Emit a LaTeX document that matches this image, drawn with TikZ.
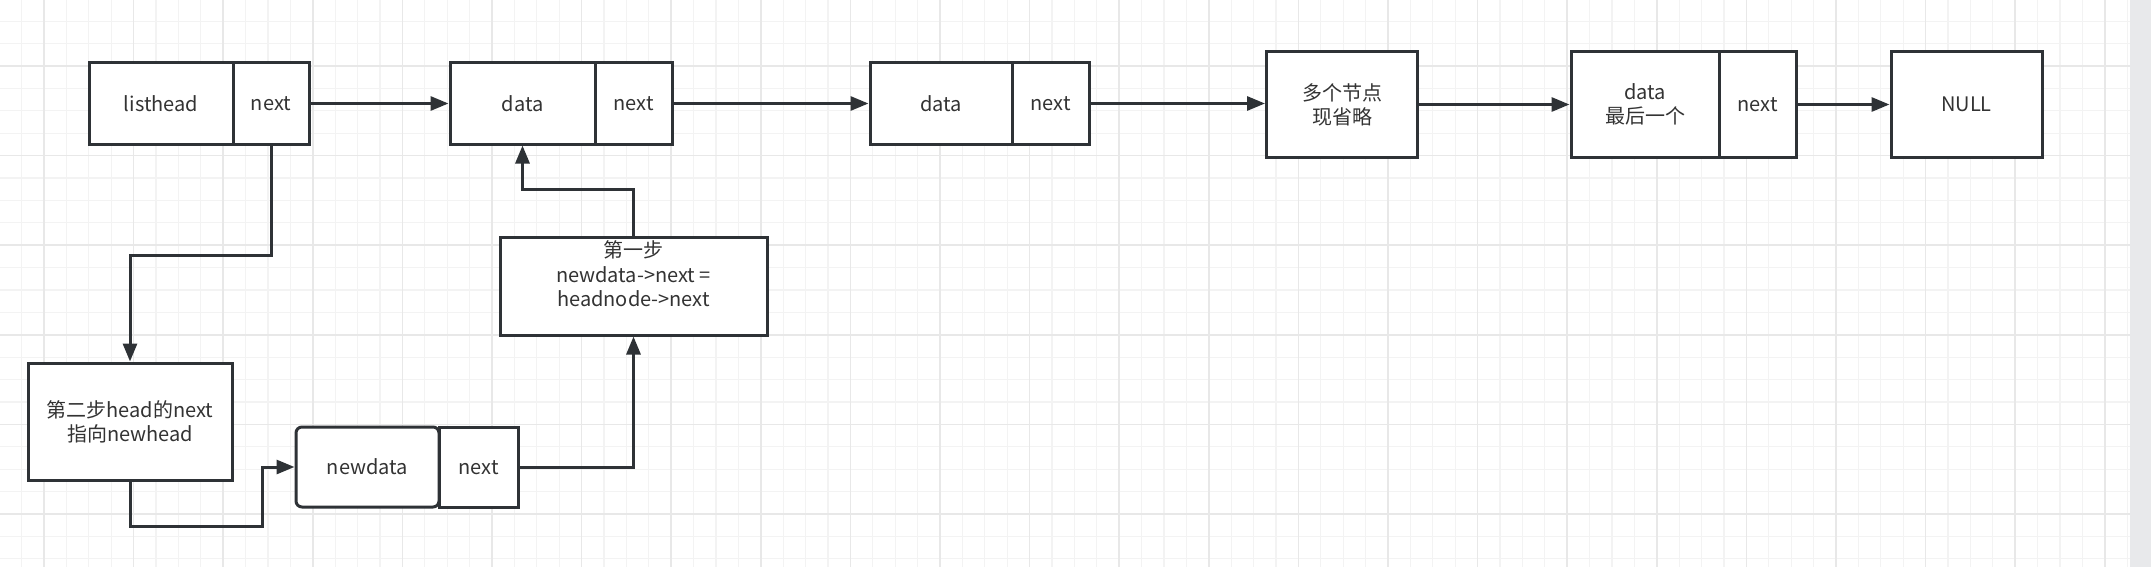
\documentclass[tikz,border=0pt]{standalone}
\usepackage{fontspec}
\setmainfont{Noto Sans CJK SC}
\usetikzlibrary{arrows.meta}
\definecolor{lc}{HTML}{2E3236}
\definecolor{tc}{HTML}{333333}
\definecolor{gminor}{HTML}{F3F3F3}
\definecolor{gmajor}{HTML}{E8E8E8}
\definecolor{strip}{HTML}{E8E9EB}
\tikzset{
  cell/.style={draw=lc, line width=3pt, fill=white, text=tc, inner sep=0pt, align=center,
    font={\fontsize{20}{24}\selectfont}},
  arr/.style={draw=lc, line width=3pt, -{Triangle[length=18pt,width=14pt]}},
  minorline/.style={draw=gminor, line width=1.1pt},
  majorline/.style={draw=gmajor, line width=1.5pt},
}
\begin{document}
\begin{tikzpicture}[x=1pt,y=-1pt]
\useasboundingbox (0,0) rectangle (2151,567);
% background grid
\fill[white] (0,0) rectangle (2151,567);
\foreach \i in {0,...,95} { \draw[minorline] ({-0.8+22.4*\i},0) -- ({-0.8+22.4*\i},567); }
\foreach \j in {0,...,25} { \draw[minorline] (0,{-1.2+22.4*\j}) -- (2130,{-1.2+22.4*\j}); }
\foreach \i in {0,...,23} { \draw[majorline] ({44+89.6*\i},0) -- ({44+89.6*\i},567); }
\foreach \j in {0,...,5} { \draw[majorline] (0,{66+89.6*\j}) -- (2130,{66+89.6*\j}); }
\fill[strip] (2130,0) rectangle (2151,567);

% top row
\node[cell, minimum width=144pt, minimum height=81pt] (lh) at (161,103.5) {listhead};
\node[cell, minimum width=76pt, minimum height=81pt] (lhn) at (271,103.5) {next};
\node[cell, minimum width=145pt, minimum height=81pt] (d1) at (522.5,103.5) {data};
\node[cell, minimum width=77pt, minimum height=81pt] (d1n) at (633.5,103.5) {next};
\node[cell, minimum width=142pt, minimum height=81pt] (d2) at (941,103.5) {data};
\node[cell, minimum width=77pt, minimum height=81pt] (d2n) at (1050.5,103.5) {next};
\node[cell, minimum width=151pt, minimum height=105pt] (many) at (1342,104.5) {多个节点\\现省略};
\node[cell, minimum width=148pt, minimum height=105pt] (last) at (1645,104.5) {data\\最后一个};
\node[cell, minimum width=77pt, minimum height=105pt] (lastn) at (1757.5,104.5) {next};
\node[cell, minimum width=151pt, minimum height=105pt] (null) at (1966.5,104.5) {NULL};

% lower part
\node[cell, minimum width=204pt, minimum height=117pt] (step2) at (130,421.5) {第二步head的next\\指向newhead};
\node[cell, minimum width=143pt, minimum height=80pt, rounded corners=6pt] (nd) at (367.5,467) {newdata};
\node[cell, minimum width=79pt, minimum height=80pt] (ndn) at (478.5,467.5) {next};
\node[cell, minimum width=267pt, minimum height=98pt] (step1) at (633.5,286) {};
\node[text=tc, align=center, inner sep=0pt, font={\fontsize{20}{24.5}\selectfont}] (step1t) at (633.5,274) {第一步\\newdata->next =\\headnode->next};

% connectors
\draw[arr] (lhn.east) -- (d1.west);
\draw[arr] (d1n.east) -- (d2.west);
\draw[arr] (d2n.east) -- (d2n.east -| many.west);
\draw[arr] (many.east) -- (many.east -| last.west);
\draw[arr] (lastn.east) -- (null.west);
\draw[arr] (lhn.south) -- ++(0,110) -| (step2.north);
\draw[arr] (step2.south) -- ++(0,45) -| ([xshift=-32pt]nd.west) -- (nd.west);
\draw[arr] (ndn.east) -| (step1.south);
\draw[arr] (step1.north) -- ++(0,-46) -| (d1.south);
\end{tikzpicture}
\end{document}
